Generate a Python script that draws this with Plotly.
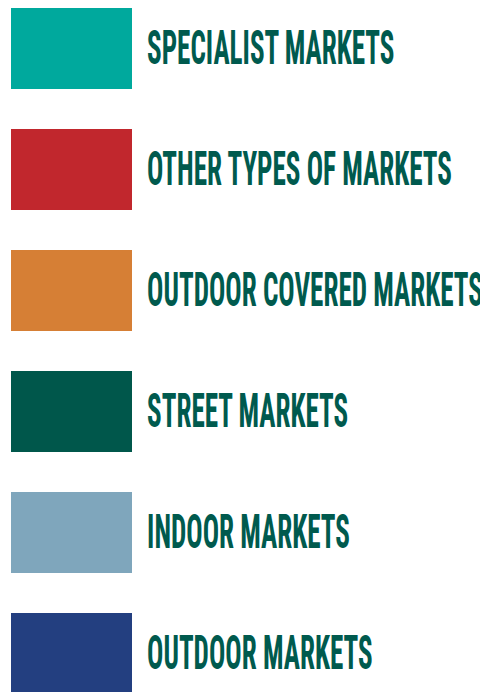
import plotly.graph_objects as go

labels = ["SPECIALIST MARKETS", "OTHER TYPES OF MARKETS", "OUTDOOR COVERED MARKETS",
          "STREET MARKETS", "INDOOR MARKETS", "OUTDOOR MARKETS"]
colors = ["#00A99D", "#C1272D", "#D67F35", "#00574B", "#7FA6BC", "#233F80"]
values = [1, 1, 1, 1, 1, 1]

# figure is offset by the page's 8px body margin; sizes chosen so it fills the window
W, H = 480, 684
PITCH = 121.0
FONT = "Roboto Condensed, Roboto, sans-serif"
fig = go.Figure()
fig.add_trace(go.Bar(
    y=list(range(len(labels))), x=values, orientation="h",
    marker=dict(color=colors, line=dict(width=0)),
    width=81 / PITCH, hoverinfo="skip", showlegend=False,
))
for i, lab in enumerate(labels):
    fig.add_annotation(
        x=(137 - 3) / PITCH, y=i - 1.5 / PITCH, text=lab,
        showarrow=False, xanchor="left", yanchor="middle", xref="x", yref="y",
        font=dict(family=FONT, size=48, color="#005A4E", weight="bold"))
fig.update_layout(
    width=W, height=H, margin=dict(l=0, r=0, t=0, b=0),
    paper_bgcolor="white", plot_bgcolor="white",
    xaxis=dict(range=[-3 / PITCH, (W - 3) / PITCH], visible=False, fixedrange=True),
    yaxis=dict(range=[(H - 40.5) / PITCH, -40.5 / PITCH], visible=False, fixedrange=True),
    bargap=0,
)

# narrow the label glyphs horizontally to mimic the reference's compressed display face
post = """
var st = document.createElement('style');
st.textContent = '.annotation-text{transform-box:fill-box;transform-origin:0% 50%;transform:scaleX(0.565);}';
document.head.appendChild(st);
"""
fig.write_html("out.html", config={"displayModeBar": False}, post_script=post)
